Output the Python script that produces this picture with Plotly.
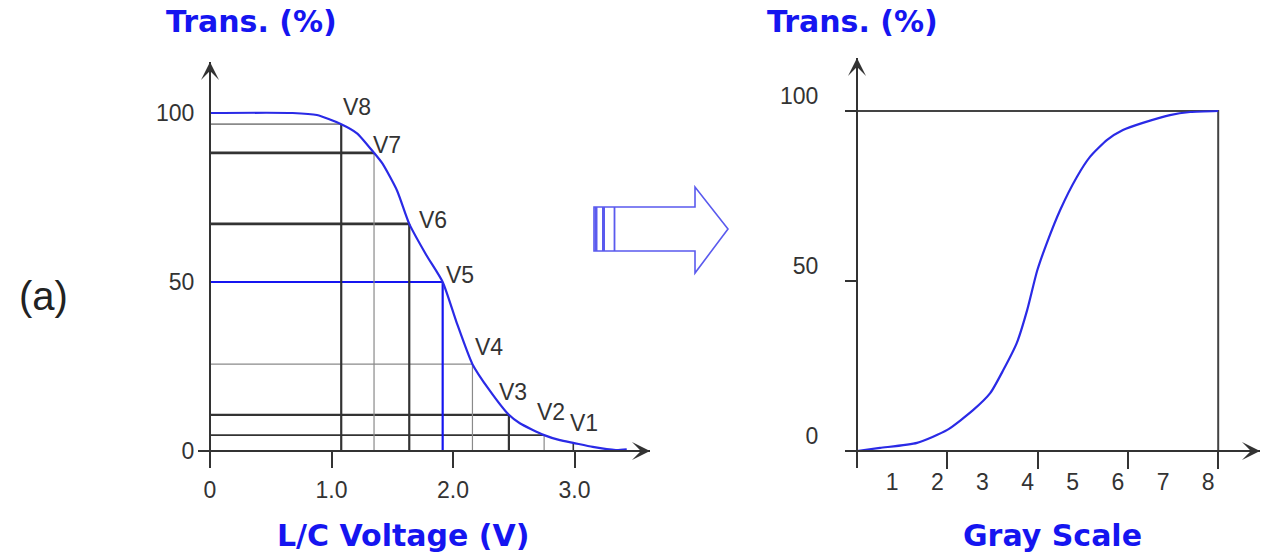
import plotly.graph_objects as go

W, H = 1268, 556

# ---- Left panel: transmission vs. liquid-crystal drive voltage ----
volt_curve = [0, 0.68, 0.88, 1.08, 1.21, 1.35, 1.42, 1.54, 1.64, 1.78, 1.915,
              2.03, 2.16, 2.30, 2.46, 2.55, 2.75, 2.88, 2.99, 3.15, 3.34, 3.43]
trans_curve = [100, 100, 99.4, 96.7, 94.0, 88.2, 85.0, 77.0, 67.2, 58.0, 50.0,
               38.0, 25.7, 18.0, 10.7, 8.2, 4.7, 3.2, 2.4, 1.2, 0.3, 0.5]

level_names = ["V1", "V2", "V3", "V4", "V5", "V6", "V7", "V8"]
level_volt = [2.99, 2.75, 2.46, 2.16, 1.915, 1.64, 1.35, 1.08]
level_trans = [2.4, 4.7, 10.7, 25.7, 50.0, 67.2, 88.2, 96.7]

volt_ticks = [0, 1, 2, 3]
volt_tick_text = ["0", "1.0", "2.0", "3.0"]
trans_ticks = [0, 50, 100]

# ---- Right panel: transmission vs. gray level ----
gray_curve = [0, 0.51, 1.33, 2.0, 2.57, 2.95, 3.24, 3.54, 3.77, 3.99, 4.2,
              4.5, 4.87, 5.16, 5.54, 5.89, 6.33, 6.93, 7.38, 8.0]
gray_trans = [0, 0.9, 2.4, 6.2, 12.0, 17.0, 23.8, 31.8, 41.5, 53.0, 61.0,
              70.9, 80.6, 86.5, 91.5, 94.4, 96.5, 98.8, 99.7, 100]
gray_levels = [1, 2, 3, 4, 5, 6, 7, 8]
gray_major = [2, 4, 6, 8]

# ---- styling ----
BLUE = "#1515f0"
CURVE = "#2a2ae6"
DARK = "#333333"
LIGHT = "#8a8a8a"
TICK_FONT = dict(family="Liberation Sans, Arial, sans-serif", size=23, color="#333333")
TITLE_FONT = dict(family="DejaVu Sans, Verdana, sans-serif", size=30, color=BLUE, weight="bold")

# line style of each level (V1..V8): vertical, horizontal
v_style = [(DARK, 1.6), (LIGHT, 1.2), (DARK, 2.2), (LIGHT, 1.2), (BLUE, 2.2), (DARK, 2.2), (LIGHT, 1.2), (DARK, 2.2)]
h_style = [None, (DARK, 1.6), (DARK, 2.2), (LIGHT, 1.2), (BLUE, 2.0), (DARK, 2.6), (DARK, 2.6), (LIGHT, 1.6)]
label_shift = [(11, 20), (7, 23), (4, 23), (17, 17), (17, 7), (24, 4), (13, 8), (16, 17)]


def fx(px):
    return px / W


def fy(py):
    return 1 - py / H


# pixel frame of each panel: origin, scale (px per unit), extents
L = dict(ox=210, oy=451, sx=121.5, sy=3.38, left=198, right=650, bottom=458, top=62)
R = dict(ox=857, oy=451, sx=45.15, sy=3.40, left=845, right=1260, bottom=468, top=58)


def x_range(p):
    return [(p["left"] - p["ox"]) / p["sx"], (p["right"] - p["ox"]) / p["sx"]]


def y_range(p):
    return [(p["oy"] - p["bottom"]) / p["sy"], (p["oy"] - p["top"]) / p["sy"]]


fig = go.Figure()

# level guide lines, left panel
for i, name in enumerate(level_names):
    v, t = level_volt[i], level_trans[i]
    c, w = v_style[i]
    fig.add_trace(go.Scatter(x=[v, v], y=[0, t], mode="lines", line=dict(color=c, width=w),
                             xaxis="x", yaxis="y", hoverinfo="skip"))
    if h_style[i] is not None:
        c, w = h_style[i]
        fig.add_trace(go.Scatter(x=[0, v], y=[t, t], mode="lines", line=dict(color=c, width=w),
                                 xaxis="x", yaxis="y", hoverinfo="skip"))

# transmission-voltage curve
fig.add_trace(go.Scatter(x=volt_curve, y=trans_curve, mode="lines",
                         line=dict(color=CURVE, width=2.2, shape="spline", smoothing=0.6),
                         xaxis="x", yaxis="y"))

# right panel frame at full scale
fig.add_trace(go.Scatter(x=[0, gray_levels[-1], gray_levels[-1]], y=[100, 100, 0], mode="lines",
                         line=dict(color="#444444", width=2), xaxis="x2", yaxis="y2", hoverinfo="skip"))
fig.add_trace(go.Scatter(x=gray_curve, y=gray_trans, mode="lines",
                         line=dict(color=CURVE, width=2.2, shape="spline", smoothing=0.6),
                         xaxis="x2", yaxis="y2"))
fig.add_trace(go.Scatter(x=[], y=[], xaxis="x3", yaxis="y2", showlegend=False))

annotations = []
for i, name in enumerate(level_names):
    dx, dy = label_shift[i]
    annotations.append(dict(x=level_volt[i], y=level_trans[i], xref="x", yref="y", text=name,
                            showarrow=False, xshift=dx, yshift=dy, font=TICK_FONT,
                            xanchor="center", yanchor="middle"))


def axis_head(xref, yref, x, y, ax, ay):
    return dict(x=x, y=y, xref=xref, yref=yref, ax=ax, ay=ay, text="", showarrow=True,
                arrowhead=3, arrowsize=1.5, arrowwidth=2, arrowcolor=DARK)


lxr, lyr = x_range(L), y_range(L)
rxr, ryr = x_range(R), y_range(R)
annotations += [
    axis_head("x", "y", 0, lyr[1] - 1e-6, 0, 18),
    axis_head("x", "y", lxr[1] - 1e-6, 0, -18, 0),
    axis_head("x2", "y2", 0, ryr[1] - 1e-6, 0, 18),
    axis_head("x2", "y2", rxr[1] - 1e-6, 0, -18, 0),
]

titles = [
    ("Trans. (%)", 251, 22),
    ("Trans. (%)", 852, 22),
    ("L/C Voltage (V)", 403, 535),
    ("Gray Scale", 1052, 535),
]
for text, px, py in titles:
    annotations.append(dict(x=fx(px), y=fy(py), xref="paper", yref="paper", text=text,
                            showarrow=False, font=TITLE_FONT, xanchor="center", yanchor="middle"))
annotations.append(dict(x=fx(43), y=fy(296), xref="paper", yref="paper", text="(a)", showarrow=False,
                        font=dict(family="Liberation Sans, Arial, sans-serif", size=40, color="#222222"),
                        xanchor="center", yanchor="middle"))

# hollow block arrow between the panels
arrow_pts = [(594, 207), (695, 207), (695, 187), (728, 229), (695, 273), (695, 251), (594, 251)]
path = "M" + " L".join(f"{fx(a):.5f},{fy(b):.5f}" for a, b in arrow_pts) + " Z"
shapes = [dict(type="path", path=path, xref="paper", yref="paper",
               line=dict(color="#5a5aee", width=1.6), fillcolor="rgba(255,255,255,0)")]
for bx, bw in [(596, 3), (603.5, 3), (614.5, 1.8)]:
    shapes.append(dict(type="line", x0=fx(bx), x1=fx(bx), y0=fy(207), y1=fy(251),
                       xref="paper", yref="paper", line=dict(color="#5a5aee", width=bw)))

common = dict(showgrid=False, zeroline=False, fixedrange=True, automargin=False)

fig.update_layout(
    width=W, height=H, autosize=False,
    margin=dict(l=0, r=0, t=0, b=0, pad=0, autoexpand=False),
    paper_bgcolor="white", plot_bgcolor="rgba(0,0,0,0)",
    showlegend=False,
    xaxis=dict(domain=[fx(L["left"]), fx(L["right"])], range=lxr, anchor="free", position=fy(L["oy"]),
               showline=True, linecolor=DARK, linewidth=2,
               tickmode="array", tickvals=volt_ticks, ticktext=volt_tick_text,
               ticks="outside", ticklen=16, tickwidth=2, tickcolor=DARK,
               tickfont=TICK_FONT, ticklabelstandoff=2, **common),
    yaxis=dict(domain=[fy(L["bottom"]), fy(L["top"])], range=lyr, anchor="free", position=fx(L["ox"]),
               showline=True, linecolor=DARK, linewidth=2,
               tickmode="array", tickvals=trans_ticks, ticks="",
               tickfont=TICK_FONT, ticklabelstandoff=10, **common),
    xaxis2=dict(domain=[fx(R["left"]), fx(R["right"])], range=rxr, anchor="free", position=fy(R["oy"]),
                showline=True, linecolor=DARK, linewidth=2,
                tickmode="array", tickvals=gray_major, showticklabels=False,
                ticks="outside", ticklen=17, tickwidth=2, tickcolor=DARK, **common),
    xaxis3=dict(overlaying="x2", range=rxr, anchor="free", position=fy(R["oy"]),
                showline=False, tickmode="array", tickvals=gray_levels,
                ticktext=[str(g) for g in gray_levels],
                ticks="outside", ticklen=10, tickcolor="rgba(0,0,0,0)",
                tickfont=TICK_FONT, ticklabelstandoff=0, ticklabelshift=-10, **common),
    yaxis2=dict(domain=[fy(R["bottom"]), fy(R["top"])], range=ryr, anchor="free", position=fx(R["ox"]),
                showline=True, linecolor=DARK, linewidth=2,
                tickmode="array", tickvals=trans_ticks,
                ticks="outside", ticklen=11, tickwidth=2, tickcolor=DARK,
                tickfont=TICK_FONT, ticklabelstandoff=22, ticklabelshift=-15, **common),
    annotations=annotations,
    shapes=shapes,
)

fig.write_html("out.html", config={"displayModeBar": False})
